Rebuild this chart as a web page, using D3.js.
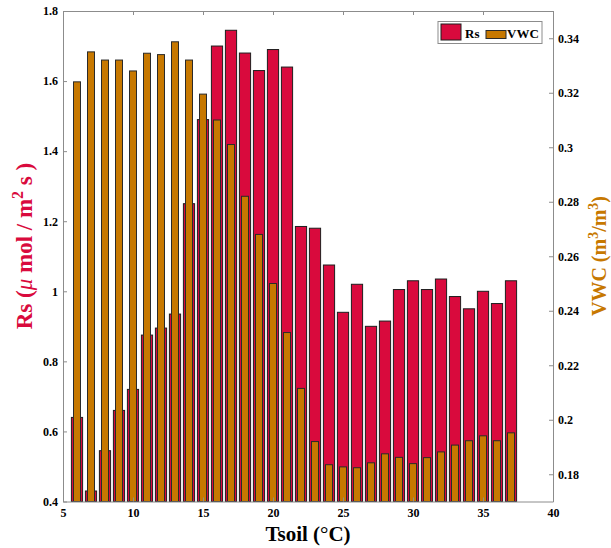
<!DOCTYPE html>
<html>
<head>
<meta charset="utf-8">
<script src="https://cdn.jsdelivr.net/npm/d3@7"></script>
<style>
  html, body { margin: 0; padding: 0; background: #fff; }
  svg { display: block; }
  text { font-family: "Liberation Serif", "Times New Roman", serif; font-weight: bold; }
</style>
</head>
<body>
<script>
// ---- data ----
const tsoil = [6,7,8,9,10,11,12,13,14,15,16,17,18,19,20,21,22,23,24,25,26,27,28,29,30,31,32,33,34,35,36,37];
const rsValues = [0.64,0.43,0.545,0.66,0.72,0.875,0.895,0.935,1.25,1.49,1.70,1.745,1.68,1.63,1.69,1.64,1.185,1.18,1.075,0.94,1.02,0.90,0.915,1.005,1.03,1.005,1.035,0.985,0.95,1.0,0.965,1.03];
const vwcValues = [0.324,0.335,0.332,0.332,0.328,0.3345,0.334,0.3387,0.332,0.3195,0.310,0.301,0.282,0.268,0.250,0.232,0.2115,0.192,0.1835,0.1827,0.1824,0.1842,0.1875,0.1862,0.1839,0.1861,0.1882,0.1907,0.1923,0.1941,0.1923,0.1952];
const xTicks = [5,10,15,20,25,30,35,40];
const leftTicks = [0.4,0.6,0.8,1.0,1.2,1.4,1.6,1.8];
const leftTickLabels = ["0.4","0.6","0.8","1","1.2","1.4","1.6","1.8"];
const rightTicks = [0.18,0.20,0.22,0.24,0.26,0.28,0.30,0.32,0.34];
const rightTickLabels = ["0.18","0.2","0.22","0.24","0.26","0.28","0.3","0.32","0.34"];
const seriesNames = ["Rs","VWC"];

// ---- layout ----
const W = 611, H = 548;
const L = 63, R = 553, T = 11, B = 501.5;
const RED = "#d90a3d", ORANGE = "#c77800", AXIS = "#8c8c8c";

const svg = d3.select("body").append("svg").attr("width", W).attr("height", H);

const x = d3.scaleLinear().domain([5,40]).range([L,R]);
const yL = d3.scaleLinear().domain([0.4,1.8]).range([B,T]);
const yR = d3.scaleLinear().domain([0.17,0.35]).range([B,T]);

const redW = x(0.8) - x(0);
const oraW = x(0.5) - x(0);

// Rs bars
svg.append("g").selectAll("rect").data(tsoil).join("rect")
  .attr("x", (d) => x(d) - redW/2)
  .attr("y", (d,i) => yL(rsValues[i]))
  .attr("width", redW)
  .attr("height", (d,i) => yL(0.4) - yL(rsValues[i]))
  .attr("fill", RED).attr("stroke", "#1e1e1e").attr("stroke-width", 1);

// VWC bars
svg.append("g").selectAll("rect").data(tsoil).join("rect")
  .attr("x", (d) => x(d) - oraW/2)
  .attr("y", (d,i) => yR(vwcValues[i]))
  .attr("width", oraW)
  .attr("height", (d,i) => yR(0.17) - yR(vwcValues[i]))
  .attr("fill", ORANGE).attr("stroke", "#2a2a2a").attr("stroke-width", 1);

function styleAxis(g) {
  g.selectAll(".domain").attr("stroke", AXIS).attr("stroke-width", 1);
  g.selectAll(".tick line").attr("stroke", AXIS);
  g.selectAll(".tick text").attr("fill", "#000")
    .style("font-family", '"Liberation Serif", serif').style("font-weight", "bold").style("font-size", "12px");
}

// bottom axis
const gx = svg.append("g").attr("transform", `translate(0,${B})`)
  .call(d3.axisBottom(x).tickValues(xTicks).tickFormat(d3.format("d")).tickSize(-4).tickSizeOuter(0).tickPadding(7));
styleAxis(gx);
// top axis
const gt = svg.append("g").attr("transform", `translate(0,${T})`)
  .call(d3.axisTop(x).tickValues(xTicks).tickFormat("").tickSize(-4).tickSizeOuter(0));
styleAxis(gt);
// left axis
const gl = svg.append("g").attr("transform", `translate(${L},0)`)
  .call(d3.axisLeft(yL).tickValues(leftTicks).tickFormat((d,i) => leftTickLabels[i]).tickSize(-4).tickSizeOuter(0).tickPadding(5));
styleAxis(gl);
// right axis
const gr = svg.append("g").attr("transform", `translate(${R},0)`)
  .call(d3.axisRight(yR).tickValues(rightTicks).tickFormat((d,i) => rightTickLabels[i]).tickSize(-4).tickSizeOuter(0).tickPadding(5));
styleAxis(gr);

// axis titles
const xt = svg.append("text").attr("x", (L+R)/2).attr("y", 541)
  .attr("text-anchor", "middle").style("font-size", "21px").attr("fill", "#000");
xt.append("tspan").text("Tsoil (");
xt.append("tspan").text("°").style("font-weight", "normal");
xt.append("tspan").text("C)");

const lt = svg.append("text").attr("transform", `translate(32,246) rotate(-90)`)
  .attr("text-anchor", "middle").style("font-size", "23px").attr("fill", RED);
lt.append("tspan").text("Rs (");
lt.append("tspan").text("μ").style("font-style", "italic").style("font-weight", "normal");
lt.append("tspan").text(" mol / m");
lt.append("tspan").text("2").attr("dy", -9).style("font-size", "16px");
lt.append("tspan").text(" s )").attr("dy", 9);

const rt = svg.append("text").attr("transform", `translate(606,256) rotate(-90)`)
  .attr("text-anchor", "middle").style("font-size", "20px").attr("fill", ORANGE);
rt.append("tspan").text("VWC (m");
rt.append("tspan").text("3").attr("dy", -8).style("font-size", "14px");
rt.append("tspan").text("/m").attr("dy", 8);
rt.append("tspan").text("3").attr("dy", -8).style("font-size", "14px");
rt.append("tspan").text(")").attr("dy", 8);

// legend
const lg = svg.append("g");
lg.append("rect").attr("x", 438).attr("y", 21.5).attr("width", 104).attr("height", 22)
  .attr("fill", "#fff").attr("stroke", AXIS).attr("stroke-width", 1);
lg.append("rect").attr("x", 441).attr("y", 24).attr("width", 20).attr("height", 16)
  .attr("fill", RED).attr("stroke", "#1e1e1e");
lg.append("text").attr("x", 465).attr("y", 38).text(seriesNames[0]).style("font-size", "13px");
lg.append("rect").attr("x", 486).attr("y", 30.5).attr("width", 20).attr("height", 8)
  .attr("fill", ORANGE).attr("stroke", "#2a2a2a");
lg.append("text").attr("x", 507).attr("y", 38).text(seriesNames[1]).style("font-size", "13px");
</script>
</body>
</html>
